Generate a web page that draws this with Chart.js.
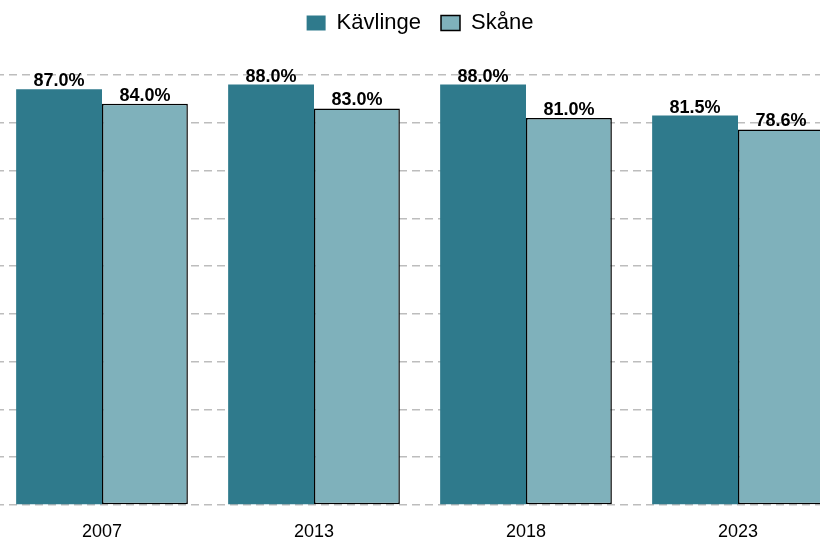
<!DOCTYPE html>
<html>
<head>
<meta charset="utf-8">
<script src="https://cdn.jsdelivr.net/npm/chart.js@4"></script>
<style>
  html, body { margin: 0; padding: 0; background: #fff; overflow: hidden; }
  #wrap { position: absolute; left: -4px; top: 0; width: 848px; height: 541px; }
</style>
</head>
<body>
<div id="wrap"><canvas id="chart"></canvas></div>
<script>
const years = ['2007', '2013', '2018', '2023'];
const kavlinge = [87.0, 88.0, 88.0, 81.5];
const skane = [84.0, 83.0, 81.0, 78.6];
const yTicks = { min: 0, max: 90, step: 10 };

const FONT = '"Liberation Sans", Arial, sans-serif';

// value labels above each bar
const barLabels = {
    id: 'barLabels',
    afterDatasetsDraw(chart) {
        const ctx = chart.ctx;
        ctx.save();
        ctx.font = 'bold 18px ' + FONT;
        ctx.fillStyle = '#000';
        ctx.textAlign = 'center';
        ctx.textBaseline = 'alphabetic';
        chart.data.datasets.forEach((ds, i) => {
            chart.getDatasetMeta(i).data.forEach((bar, j) => {
                ctx.fillText(ds.data[j].toFixed(1) + '%', bar.x, bar.y - 3);
            });
        });
        ctx.restore();
    }
};

// make room between legend and plot
const legendSpace = {
    id: 'legendSpace',
    beforeInit(chart) {
        const origFit = chart.legend.fit;
        chart.legend.fit = function () {
            origFit.call(this);
            this.height = 83;
        };
    }
};

new Chart(document.getElementById('chart'), {
    type: 'bar',
    data: {
        labels: years,
        datasets: [{
            label: 'Kävlinge',
            data: kavlinge,
            backgroundColor: '#2f7a8c',
            borderWidth: 0
        }, {
            label: 'Skåne',
            data: skane,
            backgroundColor: '#7fb1bb',
            borderColor: '#000',
            borderWidth: 1.5,
            borderSkipped: false
        }]
    },
    options: {
        responsive: true,
        maintainAspectRatio: false,
        animation: false,
        layout: { padding: { top: -8, left: 0, right: 0, bottom: 0 } },
        datasets: { bar: { barPercentage: 1.0, categoryPercentage: 0.81 } },
        plugins: {
            tooltip: { enabled: false },
            legend: {
                position: 'top',
                labels: {
                    color: '#000',
                    boxWidth: 19,
                    boxHeight: 15,
                    padding: 20,
                    font: { size: 22, family: FONT }
                }
            }
        },
        scales: {
            x: {
                grid: { display: false },
                border: { display: false },
                ticks: { color: '#000', padding: 8, font: { size: 18, family: FONT } },
                afterFit(scale) { scale.height = 36; }
            },
            y: {
                min: yTicks.min,
                max: yTicks.max,
                ticks: { display: false, stepSize: yTicks.step },
                border: { display: false, dash: [8, 5] },
                grid: { color: '#bdbdbd', lineWidth: 1.5, drawTicks: false }
            }
        }
    },
    plugins: [barLabels, legendSpace]
});
</script>
</body>
</html>
